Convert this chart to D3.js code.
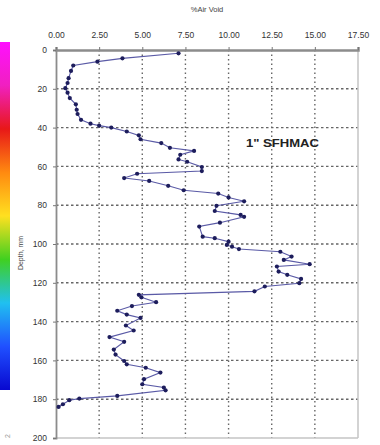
<!DOCTYPE html>
<html lang="en">
<head>
    <meta charset="UTF-8">
    <title>Air Void Profile</title>
    <script src="https://d3js.org/d3.v7.min.js"></script>
    <style>
        body { margin: 0; background: #fff; }
        text { font-family: "Liberation Sans", Arial, sans-serif; }
    </style>
</head>
<body>
    <svg></svg>
    <script>
        // depth (mm) and % air void
        const depth = [1.7, 4.3, 6, 8, 10.8, 14.5, 17, 19.7, 22, 24.8, 28, 30.8, 33, 36, 38, 39, 40, 42, 44, 46,
            48, 50.4, 52, 54, 56.4, 57.6, 60.3, 62.4, 63.8, 66, 67.5, 70, 72.3, 74, 76, 78, 80.3, 83, 85, 86,
            89, 91, 96.2, 97, 98.8, 100.5, 101.4, 102.6, 104, 106.5, 108.2, 110.4, 111.6, 114.2, 115.9, 118, 120.2, 121.9, 124.4, 126.2,
            127.5, 130, 132, 134.4, 136.4, 138.1, 142, 144.6, 148, 150.4, 154.4, 157, 160.3, 162, 163.8, 166.3, 169.7, 172.3, 174, 175.4,
            178.3, 179.7, 180.5, 182.6, 184];
        const airVoid = [7.1, 3.85, 2.4, 1.0, 0.87, 0.73, 0.67, 0.54, 0.67, 0.8, 1.15, 1.2, 1.25, 1.45, 2.0, 2.5, 3.2, 4.1, 4.8, 4.9,
            6.1, 6.6, 8.0, 7.2, 7.1, 7.6, 8.45, 8.45, 4.7, 3.95, 5.4, 6.5, 7.4, 9.4, 10.0, 10.9, 9.3, 9.2, 10.7, 10.9,
            9.5, 8.3, 8.5, 9.2, 10.0, 9.9, 10.2, 10.6, 13.0, 13.65, 13.2, 14.7, 12.8, 12.9, 13.4, 14.2, 14.1, 12.1, 11.5, 4.8,
            4.95, 5.8, 4.4, 3.55, 4.1, 4.9, 4.05, 4.5, 3.1, 3.95, 3.35, 3.45, 3.95, 4.1, 5.2, 6.05, 5.1, 5.0, 6.25, 6.35,
            3.55, 1.35, 0.77, 0.4, 0.15];
        const xTicks = [0, 2.5, 5, 7.5, 10, 12.5, 15, 17.5];
        const yTicks = [0, 20, 40, 60, 80, 100, 120, 140, 160, 180, 200];
        const barColors = ["#ff10ff", "#f020c0", "#e81818", "#ff8a10", "#ffe020", "#40d020", "#20c0f0", "#2050ff", "#0808d0"];

        const width = 380, height = 445;
        const plotL = 56, plotR = 358, plotT = 50, plotB = 438;

        const svg = d3.select("svg").attr("width", width).attr("height", height);

        const x = d3.scaleLinear().domain([0, 17.5]).range([plotL, plotR]);
        const y = d3.scaleLinear().domain([0, 200]).range([plotT, plotB]);

        // colour strip on the left
        const grad = svg.append("defs").append("linearGradient")
            .attr("id", "strip").attr("x1", 0).attr("x2", 0).attr("y1", 0).attr("y2", 1);
        grad.selectAll("stop").data(barColors).enter().append("stop")
            .attr("offset", (d, i) => i / (barColors.length - 1))
            .attr("stop-color", d => d);
        svg.append("rect").attr("x", 0).attr("y", 42).attr("width", 10).attr("height", 348)
            .attr("fill", "url(#strip)");

        // grid
        svg.append("g").selectAll("line").data(xTicks.slice(1, -1)).enter().append("line")
            .attr("x1", d => x(d)).attr("x2", d => x(d)).attr("y1", plotT).attr("y2", plotB)
            .attr("stroke", "#666").attr("stroke-width", 1.4).attr("stroke-dasharray", "1.5,3");
        svg.append("g").selectAll("line").data(yTicks.slice(1, -1)).enter().append("line")
            .attr("x1", plotL).attr("x2", plotR).attr("y1", d => y(d)).attr("y2", d => y(d))
            .attr("stroke", "#666").attr("stroke-width", 1.4).attr("stroke-dasharray", "2.5,2.5");

        // frame
        svg.append("line").attr("x1", plotR).attr("x2", plotR).attr("y1", plotT).attr("y2", plotB)
            .attr("stroke", "#c4c4c4").attr("stroke-width", 1.5);
        svg.append("line").attr("x1", plotL).attr("x2", plotR).attr("y1", plotB).attr("y2", plotB)
            .attr("stroke", "#c4c4c4").attr("stroke-width", 1.5);

        // axes
        const xAxis = svg.append("g").attr("transform", `translate(0,${plotT})`)
            .call(d3.axisTop(x).tickValues(xTicks).tickFormat(d3.format(".2f")).tickSize(3).tickPadding(9));
        const yAxis = svg.append("g").attr("transform", `translate(${plotL},0)`)
            .call(d3.axisLeft(y).tickValues(yTicks).tickSize(3).tickPadding(6));
        [xAxis, yAxis].forEach(g => {
            g.selectAll("text").attr("font-size", 8.5).attr("fill", "#333")
                .style("font-family", "'Liberation Sans', Arial, sans-serif");
            g.selectAll(".tick line").attr("stroke", "#777");
        });
        xAxis.select(".domain").attr("stroke", "#8c8c8c").attr("stroke-width", 2.5);
        yAxis.select(".domain").attr("stroke", "#8c8c8c").attr("stroke-width", 1.8);

        // titles
        svg.append("text").attr("x", 207).attr("y", 12).attr("text-anchor", "middle")
            .attr("font-size", 7.5).attr("fill", "#444").text("%Air Void");
        svg.append("text").attr("transform", "translate(23,253) rotate(-90)")
            .attr("text-anchor", "middle").attr("font-size", 7).attr("fill", "#444").text("Depth, mm");
        svg.append("text").attr("transform", "translate(10,436) rotate(-90)")
            .attr("text-anchor", "middle").attr("font-size", 7).attr("fill", "#999").text("2");
        svg.append("text").attr("x", 246).attr("y", 147).attr("font-size", 11).attr("font-weight", "bold")
            .attr("fill", "#222").attr("textLength", 73).attr("lengthAdjust", "spacingAndGlyphs")
            .text("1\" SFHMAC");

        // profile
        const pts = depth.map((d, i) => [airVoid[i], d]);
        svg.append("path").datum(pts)
            .attr("d", d3.line().x(d => x(d[0])).y(d => y(d[1])))
            .attr("fill", "none").attr("stroke", "#5a5aa6").attr("stroke-width", 1.1);
        svg.append("g").selectAll("circle").data(pts).enter().append("circle")
            .attr("cx", d => x(d[0])).attr("cy", d => y(d[1])).attr("r", 2.1)
            .attr("fill", "#1d1d5c");
    </script>
</body>
</html>
